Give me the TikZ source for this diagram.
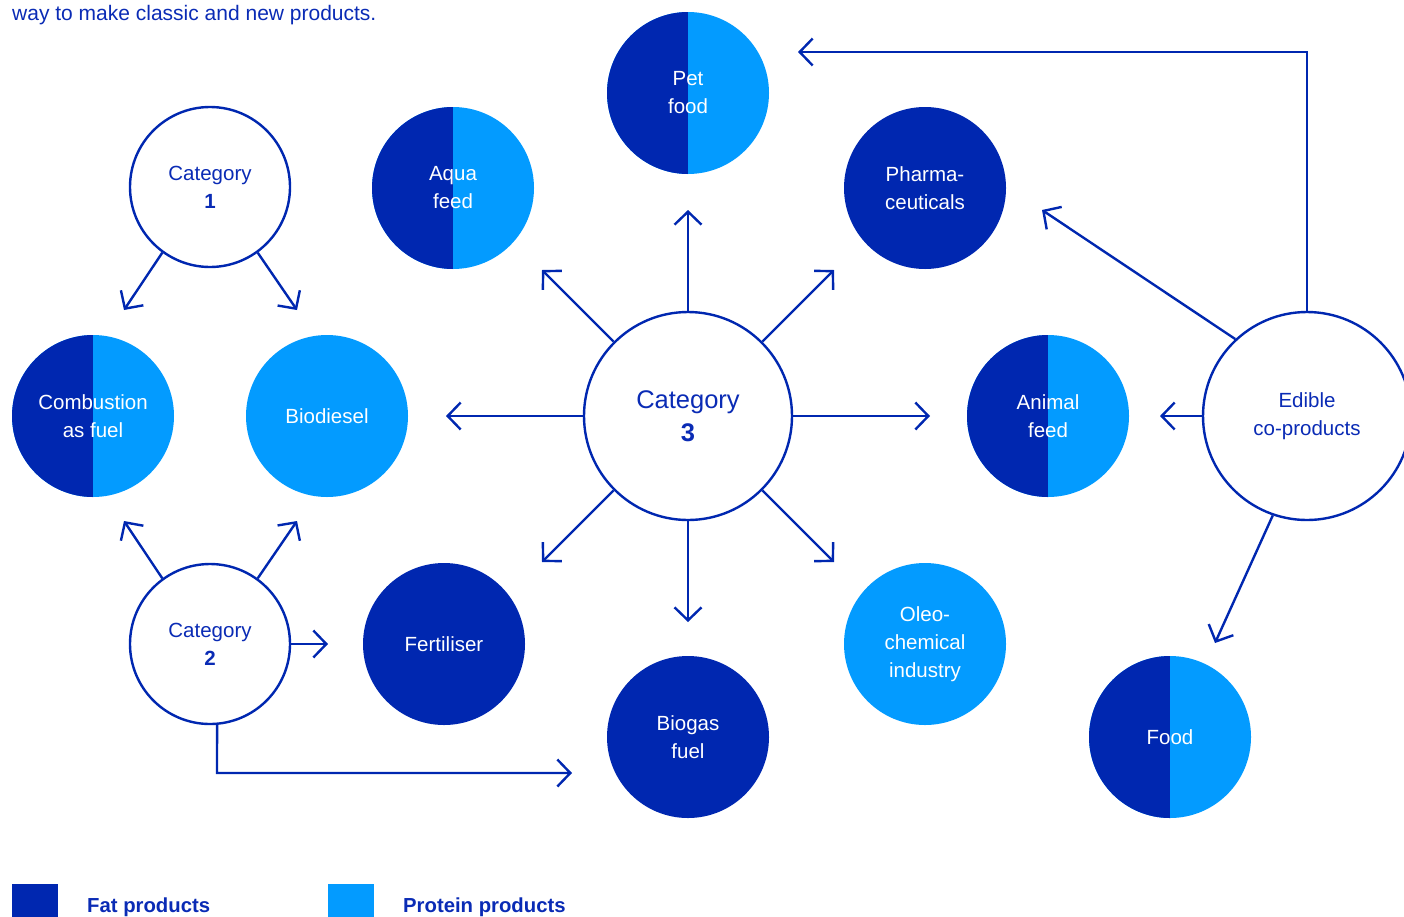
\documentclass[tikz,border=0pt]{standalone}
\usepackage{fontspec}
\setmainfont{Liberation Sans}
\usetikzlibrary{arrows.meta}
\definecolor{dk}{HTML}{0027B0}
\definecolor{lt}{HTML}{039BFF}
\definecolor{tx}{HTML}{0A2BB5}
\tikzset{
  arr/.style={draw=dk,line width=2.4pt,-{Straight Barb[length=13pt,width=27pt,line width=2.4pt]}},
  base/.style={circle,inner sep=0pt,minimum size=162pt,align=center,font=\fontsize{20.5}{28}\selectfont},
  dkc/.style={base,fill=dk,text=white},
  ltc/.style={base,fill=lt,text=white},
  halfc/.style={base,fill=lt,text=white,path picture={
      \fill[dk] ([xshift=-2pt,yshift=-2pt]path picture bounding box.south west) rectangle (path picture bounding box.north);}},
  catc/.style={base,draw=dk,line width=2.4pt,fill=white,text=tx,minimum size=160pt},
  bigc/.style={catc,minimum size=208pt}
}
\begin{document}
\begin{tikzpicture}[x=1pt,y=-1pt]
\useasboundingbox (0,0) rectangle (1404,916);
\clip (0,0) rectangle (1404,916);
\node[anchor=base west,text=tx,font=\fontsize{21}{24}\selectfont,inner sep=0pt] (intro) at (12,20) {way to make classic and new products.};
% product circles
\node[halfc] (pet) at (688,93) {Pet\\food};
\node[halfc] (aqua) at (453,188) {Aqua\\feed};
\node[dkc] (pharma) at (925,188) {Pharma-\\ceuticals};
\node[halfc] (comb) at (93,416) {Combustion\\as fuel};
\node[ltc] (bio) at (327,416) {Biodiesel};
\node[halfc] (animal) at (1048,416) {Animal\\feed};
\node[dkc] (fert) at (444,644) {Fertiliser};
\node[dkc] (biogas) at (688,737) {Biogas\\fuel};
\node[ltc] (oleo) at (925,644) {Oleo-\\chemical\\industry};
\node[halfc] (food) at (1170,737) {Food};
% category circles
\node[catc] (c1) at (210,187) {Category\\\textbf{1}};
\node[catc] (c2) at (210,644) {Category\\\textbf{2}};
\node[bigc,font=\fontsize{25.5}{33}\selectfont] (c3) at (688,416) {Category\\\textbf{3}};
\node[bigc] (ed) at (1307,416) {Edible\\co-products};
% arrow end coordinates
\coordinate (e3n) at (688,210);
\coordinate (e3nw) at (542,270);
\coordinate (e3ne) at (834,270);
\coordinate (e3w) at (446,416);
\coordinate (e3e) at (930,416);
\coordinate (e3sw) at (542,562);
\coordinate (e3se) at (834,562);
\coordinate (e3s) at (688,622);
\coordinate (e1l) at (124,310);
\coordinate (e1r) at (297,310);
\coordinate (e2l) at (124,521);
\coordinate (e2r) at (297,521);
\coordinate (e2e) at (328,644);
\coordinate (e2k) at (217,773);
\coordinate (e2b) at (572,773);
\coordinate (edk) at (1307,52);
\coordinate (edn) at (798,52);
\coordinate (ednw) at (1042,210);
\coordinate (edw) at (1160,416);
\coordinate (eds) at (1215,643);
% category 3 arrows
\draw[arr] (c3.north) -- (e3n);
\draw[arr] (c3.135) -- (e3nw);
\draw[arr] (c3.45) -- (e3ne);
\draw[arr] (c3.west) -- (e3w);
\draw[arr] (c3.east) -- (e3e);
\draw[arr] (c3.225) -- (e3sw);
\draw[arr] (c3.315) -- (e3se);
\draw[arr] (c3.south) -- (e3s);
% category 1
\draw[arr] (c1.234) -- (e1l);
\draw[arr] (c1.306) -- (e1r);
% category 2
\draw[arr] (c2.126) -- (e2l);
\draw[arr] (c2.54) -- (e2r);
\draw[arr] (c2.east) -- (e2e);
\draw[arr] (c2.275) -- (e2k) -- (e2b);
% edible
\draw[arr] (ed.north) -- (edk) -- (edn);
\draw[arr] (ed.133) -- (ednw);
\draw[arr] (ed.west) -- (edw);
\draw[arr] (ed.251) -- (eds);
% legend
\fill[dk] (12,884) rectangle (58,920) coordinate (lg1);
\fill[lt] (328,884) rectangle (374,920) coordinate (lg2);
\node[anchor=base west,inner sep=0pt,text=tx,font=\bfseries\fontsize{20.3}{24}\selectfont] (lf) at (87,912) {Fat products};
\node[anchor=base west,inner sep=0pt,text=tx,font=\bfseries\fontsize{20.3}{24}\selectfont] (lp) at (403,912) {Protein products};
\end{tikzpicture}
\end{document}
